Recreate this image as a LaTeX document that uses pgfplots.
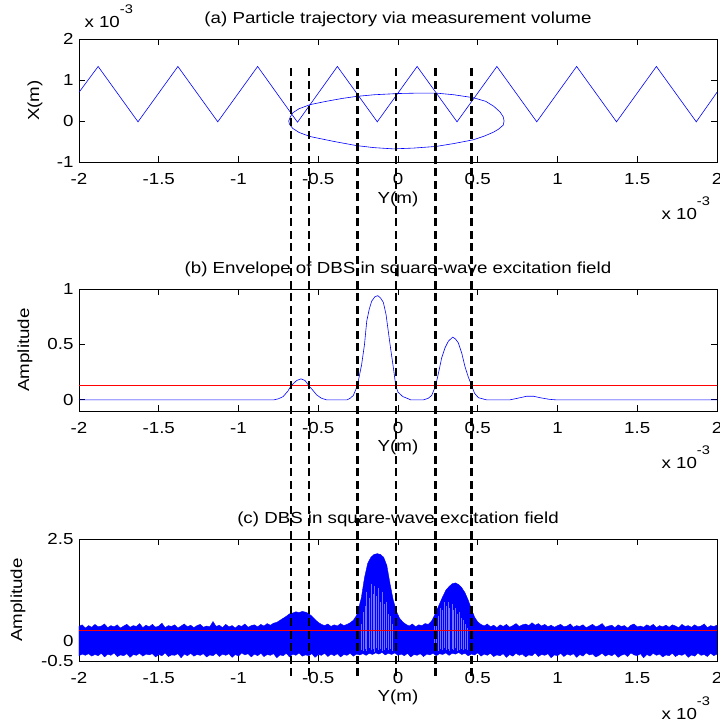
\documentclass[border=0pt]{standalone}
\usepackage{fontspec}
\setmainfont{Liberation Sans}[FakeStretch=1.17]
\usepackage{pgfplots}
\pgfplotsset{compat=1.18}

\newcommand{\xten}{x 10\raisebox{14pt}{\fontsize{12.5}{14}\selectfont -3}}

\pgfplotsset{
  mat/.style={
    scale only axis, width=638pt, height=123pt,
    xmin=-2, xmax=2,
    xtick={-2,-1.5,-1,-0.5,0,0.5,1,1.5,2},
    tick align=inside, major tick length=6pt,
    axis line style={line width=0.9pt},
    every tick/.style={black, line width=0.9pt},
    /pgf/number format/assume math mode=true,
    xticklabel style={yshift=-5.5pt},
    xlabel={Y(m)},
    xlabel style={at={(axis description cs:0.5,-0.30)}, anchor=center},
    every axis title/.style={at={(0.5,1)}, anchor=base, yshift=15.5pt},
    extra description/.code={
      \node[anchor=base east] at (1,0) [xshift=-1.5pt, yshift=-58pt] {\xten};
    },
  },
  dashline/.style={black, line width=2.5pt, dash pattern=on 8pt off 4.5pt},
}

\begin{document}
\fontsize{16}{19}\selectfont
\begin{tikzpicture}
\useasboundingbox (0,0) rectangle (720pt,724pt);

% (a) trajectory
\begin{axis}[mat, at={(79pt,562pt)}, anchor=south west,
    ymin=-1, ymax=2, ytick={-1,0,1,2},
    ylabel={X(m)},
    ylabel style={at={(axis description cs:-0.069,0.5)}, anchor=center},
    title={(a) Particle trajectory via measurement volume},
    extra description/.append code={
      \node[anchor=base west] at (0,1) [yshift=11pt] {\xten};
    },
]
\addplot[blue, line width=0.6pt] coordinates {
  (-2,0.70) (-1.88,1.33) (-1.63,-0.02) (-1.38,1.33) (-1.13,-0.02)
  (-0.88,1.33) (-0.63,-0.03) (-0.38,1.33) (-0.13,-0.02) (0.12,1.33)
  (0.37,-0.02) (0.62,1.33) (0.87,-0.02) (1.12,1.33) (1.37,-0.02)
  (1.62,1.33) (1.87,-0.02) (2,0.70)
};
\addplot[blue, line width=0.6pt] coordinates {
  (-0.685,0) (-0.675,0.10) (-0.66,0.20) (-0.62,0.30) (-0.55,0.40)
  (-0.45,0.48) (-0.35,0.55) (-0.26,0.60) (-0.15,0.64) (0,0.67)
  (0.12,0.68) (0.24,0.68) (0.35,0.64) (0.47,0.57) (0.55,0.48)
  (0.60,0.36) (0.64,0.22) (0.66,0.10) (0.665,0)
  (0.66,-0.10) (0.63,-0.20) (0.60,-0.27) (0.54,-0.37) (0.47,-0.46)
  (0.35,-0.55) (0.24,-0.62) (0.10,-0.66) (-0.03,-0.68) (-0.15,-0.65)
  (-0.26,-0.60) (-0.40,-0.50) (-0.55,-0.38) (-0.62,-0.28) (-0.66,-0.18)
  (-0.68,-0.08) (-0.685,0)
};
\end{axis}

% (b) envelope
\begin{axis}[mat, at={(79pt,313pt)}, anchor=south west, height=122pt,
    ymin=-0.1, ymax=1, ytick={0,0.5,1},
    ylabel={Amplitude},
    ylabel style={at={(axis description cs:-0.0846,0.5)}, anchor=center},
    title={(b) Envelope of DBS in square-wave excitation field},
]
\addplot[blue, line width=0.6pt] coordinates {
  (-2,0) (-0.78,0) (-0.75,0.01) (-0.72,0.03) (-0.69,0.08) (-0.671,0.127)
  (-0.635,0.175) (-0.608,0.19) (-0.583,0.175) (-0.558,0.127) (-0.53,0.08)
  (-0.51,0.045) (-0.48,0.015) (-0.447,0) (-0.32,0) (-0.30,0.015)
  (-0.28,0.04) (-0.255,0.127) (-0.228,0.318) (-0.21,0.50) (-0.196,0.71)
  (-0.18,0.82) (-0.165,0.89) (-0.145,0.93) (-0.127,0.94) (-0.11,0.92)
  (-0.092,0.88) (-0.075,0.77) (-0.061,0.62) (-0.045,0.45) (-0.029,0.29)
  (-0.014,0.127) (0.0,0.07) (0.03,0.03) (0.065,0.01) (0.08,0)
  (0.159,0) (0.19,0.015) (0.211,0.04) (0.236,0.127) (0.255,0.25)
  (0.274,0.38) (0.295,0.47) (0.316,0.53) (0.343,0.566) (0.36,0.55)
  (0.378,0.515) (0.40,0.42) (0.42,0.30) (0.44,0.21) (0.462,0.127)
  (0.48,0.06) (0.504,0.02) (0.556,0) (0.70,0) (0.75,0.015) (0.807,0.033)
  (0.85,0.033) (0.89,0.02) (0.95,0.005) (0.995,0) (2,0)
};
\addplot[red, line width=1pt] coordinates {(-2,0.13) (2,0.13)};
\end{axis}

% (c) DBS signal: noise band as one closed outline (upper edge, then lower edge back)
\begin{axis}[mat, at={(79pt,63pt)}, anchor=south west, height=122pt,
    ymin=-0.5, ymax=2.5, ytick={-0.5,0,2.5},
    ylabel={Amplitude},
    ylabel style={at={(axis description cs:-0.0956,0.5)}, anchor=center},
    title={(c) DBS in square-wave excitation field},
    clip=false, unbounded coords=jump,
]
\addplot[blue, fill=blue, line width=0.4pt] coordinates {
  (-2.00,0.35) (-1.98,0.39) (-1.96,0.31) (-1.94,0.37) (-1.92,0.33) (-1.90,0.40)
  (-1.88,0.34) (-1.86,0.36) (-1.84,0.41) (-1.82,0.32) (-1.80,0.37) (-1.78,0.34)
  (-1.76,0.39) (-1.74,0.31) (-1.72,0.36) (-1.70,0.40) (-1.68,0.33) (-1.66,0.37)
  (-1.64,0.35) (-1.62,0.42) (-1.60,0.32) (-1.58,0.38) (-1.56,0.34) (-1.54,0.40)
  (-1.52,0.33) (-1.50,0.36) (-1.48,0.43) (-1.46,0.32) (-1.44,0.37) (-1.42,0.35)
  (-1.40,0.39) (-1.38,0.31) (-1.36,0.36) (-1.34,0.41) (-1.32,0.34) (-1.30,0.38)
  (-1.28,0.32) (-1.26,0.37) (-1.24,0.40) (-1.22,0.33) (-1.20,0.36) (-1.18,0.34)
  (-1.16,0.47) (-1.14,0.35) (-1.12,0.38) (-1.10,0.32) (-1.08,0.40) (-1.06,0.34)
  (-1.04,0.37) (-1.02,0.31) (-1.00,0.38) (-0.98,0.35) (-0.96,0.41) (-0.94,0.33)
  (-0.92,0.37) (-0.90,0.39) (-0.88,0.34) (-0.86,0.40) (-0.84,0.36) (-0.82,0.42)
  (-0.80,0.38) (-0.78,0.43) (-0.76,0.45) (-0.74,0.50) (-0.72,0.55) (-0.70,0.60)
  (-0.68,0.66) (-0.66,0.68) (-0.64,0.71) (-0.62,0.69) (-0.60,0.72) (-0.58,0.70)
  (-0.56,0.67) (-0.54,0.60) (-0.52,0.52) (-0.50,0.45) (-0.48,0.40) (-0.46,0.37)
  (-0.44,0.41) (-0.42,0.35) (-0.40,0.39) (-0.38,0.36) (-0.36,0.42) (-0.34,0.37)
  (-0.32,0.40) (-0.30,0.44) (-0.28,0.50) (-0.26,0.62) (-0.25,0.75) (-0.23,1.05)
  (-0.21,1.55) (-0.19,1.90) (-0.17,2.05) (-0.15,2.12) (-0.13,2.14) (-0.11,2.12)
  (-0.09,2.05) (-0.07,1.85) (-0.05,1.40) (-0.03,1.00) (-0.01,0.72) (0.01,0.55)
  (0.03,0.46) (0.05,0.40) (0.07,0.36) (0.09,0.41) (0.11,0.34) (0.13,0.39)
  (0.15,0.37) (0.17,0.42) (0.19,0.40) (0.21,0.48) (0.22,0.55) (0.24,0.72)
  (0.26,0.90) (0.28,1.08) (0.30,1.24) (0.32,1.33) (0.34,1.40) (0.36,1.42)
  (0.38,1.38) (0.40,1.30) (0.42,1.18) (0.44,1.00) (0.46,0.78) (0.48,0.58)
  (0.50,0.46) (0.52,0.40) (0.54,0.36) (0.56,0.41) (0.58,0.34) (0.60,0.38)
  (0.62,0.32) (0.64,0.39) (0.66,0.35) (0.68,0.40) (0.70,0.33) (0.72,0.37)
  (0.74,0.42) (0.76,0.35) (0.78,0.39) (0.80,0.41) (0.82,0.37) (0.84,0.44)
  (0.86,0.38) (0.88,0.42) (0.90,0.36) (0.92,0.40) (0.94,0.34) (0.96,0.38)
  (0.98,0.33) (1.00,0.37) (1.02,0.40) (1.04,0.34) (1.06,0.36) (1.08,0.41)
  (1.10,0.33) (1.12,0.37) (1.14,0.35) (1.16,0.39) (1.18,0.32) (1.20,0.36)
  (1.22,0.40) (1.24,0.34) (1.26,0.37) (1.28,0.42) (1.30,0.33) (1.32,0.36)
  (1.34,0.38) (1.36,0.32) (1.38,0.39) (1.40,0.35) (1.42,0.37) (1.44,0.31)
  (1.46,0.38) (1.48,0.41) (1.50,0.34) (1.52,0.36) (1.54,0.33) (1.56,0.39)
  (1.58,0.35) (1.60,0.40) (1.62,0.32) (1.64,0.37) (1.66,0.34) (1.68,0.38)
  (1.70,0.33) (1.72,0.39) (1.74,0.36) (1.76,0.32) (1.78,0.40) (1.80,0.35)
  (1.82,0.37) (1.84,0.33) (1.86,0.39) (1.88,0.34) (1.90,0.36) (1.92,0.41)
  (1.94,0.32) (1.96,0.37) (1.98,0.35) (2.00,0.38)
  (2.00,-0.33) (1.98,-0.37) (1.96,-0.31) (1.94,-0.39) (1.92,-0.34) (1.90,-0.36)
  (1.88,-0.30) (1.86,-0.38) (1.84,-0.35) (1.82,-0.41) (1.80,-0.32) (1.78,-0.36)
  (1.76,-0.34) (1.74,-0.39) (1.72,-0.31) (1.70,-0.37) (1.68,-0.35) (1.66,-0.40)
  (1.64,-0.33) (1.62,-0.36) (1.60,-0.31) (1.58,-0.38) (1.56,-0.34) (1.54,-0.42)
  (1.52,-0.32) (1.50,-0.37) (1.48,-0.35) (1.46,-0.30) (1.44,-0.39) (1.42,-0.33)
  (1.40,-0.36) (1.38,-0.41) (1.36,-0.32) (1.34,-0.37) (1.32,-0.34) (1.30,-0.38)
  (1.28,-0.31) (1.26,-0.36) (1.24,-0.40) (1.22,-0.33) (1.20,-0.35) (1.18,-0.30)
  (1.16,-0.38) (1.14,-0.34) (1.12,-0.41) (1.10,-0.32) (1.08,-0.36) (1.06,-0.33)
  (1.04,-0.39) (1.02,-0.31) (1.00,-0.37) (0.98,-0.35) (0.96,-0.42) (0.94,-0.32)
  (0.92,-0.36) (0.90,-0.34) (0.88,-0.39) (0.86,-0.30) (0.84,-0.37) (0.82,-0.35)
  (0.80,-0.40) (0.78,-0.33) (0.76,-0.36) (0.74,-0.31) (0.72,-0.38) (0.70,-0.34)
  (0.68,-0.41) (0.66,-0.32) (0.64,-0.37) (0.62,-0.35) (0.60,-0.39) (0.58,-0.31)
  (0.56,-0.36) (0.54,-0.33) (0.52,-0.38) (0.50,-0.30) (0.48,-0.35) (0.46,-0.33)
  (0.44,-0.37) (0.42,-0.31) (0.40,-0.34) (0.38,-0.29) (0.36,-0.33) (0.34,-0.31)
  (0.32,-0.36) (0.30,-0.30) (0.28,-0.34) (0.26,-0.32) (0.24,-0.37) (0.22,-0.31)
  (0.20,-0.35) (0.18,-0.33) (0.16,-0.39) (0.14,-0.32) (0.12,-0.36) (0.10,-0.34)
  (0.08,-0.40) (0.06,-0.31) (0.04,-0.37) (0.02,-0.33) (0.00,-0.36) (-0.02,-0.30)
  (-0.04,-0.34) (-0.06,-0.31) (-0.08,-0.35) (-0.10,-0.29) (-0.12,-0.33) (-0.14,-0.30)
  (-0.16,-0.34) (-0.18,-0.31) (-0.20,-0.36) (-0.22,-0.32) (-0.24,-0.35) (-0.26,-0.33)
  (-0.28,-0.38) (-0.30,-0.31) (-0.32,-0.36) (-0.34,-0.34) (-0.36,-0.40) (-0.38,-0.32)
  (-0.40,-0.37) (-0.42,-0.33) (-0.44,-0.39) (-0.46,-0.31) (-0.48,-0.36) (-0.50,-0.34)
  (-0.52,-0.41) (-0.54,-0.32) (-0.56,-0.37) (-0.58,-0.35) (-0.60,-0.38) (-0.62,-0.30)
  (-0.64,-0.36) (-0.66,-0.33) (-0.68,-0.40) (-0.70,-0.31) (-0.72,-0.37) (-0.74,-0.35)
  (-0.76,-0.42) (-0.78,-0.32) (-0.80,-0.36) (-0.82,-0.34) (-0.84,-0.39) (-0.86,-0.31)
  (-0.88,-0.37) (-0.90,-0.33) (-0.92,-0.40) (-0.94,-0.32) (-0.96,-0.35) (-0.98,-0.30)
  (-1.00,-0.38) (-1.02,-0.34) (-1.04,-0.41) (-1.06,-0.32) (-1.08,-0.36) (-1.10,-0.33)
  (-1.12,-0.39) (-1.14,-0.31) (-1.16,-0.37) (-1.18,-0.35) (-1.20,-0.40) (-1.22,-0.32)
  (-1.24,-0.36) (-1.26,-0.34) (-1.28,-0.38) (-1.30,-0.31) (-1.32,-0.37) (-1.34,-0.33)
  (-1.36,-0.42) (-1.38,-0.32) (-1.40,-0.36) (-1.42,-0.35) (-1.44,-0.39) (-1.46,-0.30)
  (-1.48,-0.37) (-1.50,-0.34) (-1.52,-0.40) (-1.54,-0.32) (-1.56,-0.35) (-1.58,-0.33)
  (-1.60,-0.38) (-1.62,-0.31) (-1.64,-0.36) (-1.66,-0.34) (-1.68,-0.41) (-1.70,-0.32)
  (-1.72,-0.37) (-1.74,-0.35) (-1.76,-0.39) (-1.78,-0.30) (-1.80,-0.36) (-1.82,-0.33)
  (-1.84,-0.40) (-1.86,-0.31) (-1.88,-0.37) (-1.90,-0.34) (-1.92,-0.38) (-1.94,-0.32)
  (-1.96,-0.36) (-1.98,-0.33) (-2.00,-0.37)
} -- cycle;
% pale gaps between the oscillations inside the two large bursts
\addplot[blue!55!white, line width=0.25pt] coordinates {
  (-0.232,-0.22) (-0.232,0.40) (-0.232,nan)
  (-0.221,-0.25) (-0.221,0.70) (-0.221,nan)
  (-0.207,-0.20) (-0.207,0.85) (-0.207,nan)
  (-0.197,-0.26) (-0.197,1.20) (-0.197,nan)
  (-0.183,-0.18) (-0.183,1.05) (-0.183,nan)
  (-0.171,-0.24) (-0.171,1.40) (-0.171,nan)
  (-0.158,-0.21) (-0.158,1.15) (-0.158,nan)
  (-0.149,-0.27) (-0.149,1.35) (-0.149,nan)
  (-0.135,-0.19) (-0.135,1.10) (-0.135,nan)
  (-0.125,-0.23) (-0.125,1.30) (-0.125,nan)
  (-0.111,-0.20) (-0.111,0.95) (-0.111,nan)
  (-0.101,-0.25) (-0.101,1.20) (-0.101,nan)
  (-0.087,-0.22) (-0.087,0.90) (-0.087,nan)
  (-0.077,-0.18) (-0.077,0.95) (-0.077,nan)
  (-0.063,-0.24) (-0.063,0.65) (-0.063,nan)
  (-0.051,-0.21) (-0.051,0.60) (-0.051,nan)
  (-0.039,-0.26) (-0.039,0.40) (-0.039,nan)
  (0.229,-0.22) (0.229,0.35) (0.229,nan)
  (0.241,-0.19) (0.241,0.55) (0.241,nan)
  (0.251,-0.25) (0.251,0.60) (0.251,nan)
  (0.265,-0.21) (0.265,0.80) (0.265,nan)
  (0.275,-0.24) (0.275,0.75) (0.275,nan)
  (0.289,-0.18) (0.289,0.95) (0.289,nan)
  (0.299,-0.23) (0.299,0.85) (0.299,nan)
  (0.313,-0.20) (0.313,0.95) (0.313,nan)
  (0.323,-0.26) (0.323,0.80) (0.323,nan)
  (0.337,-0.21) (0.337,0.90) (0.337,nan)
  (0.347,-0.24) (0.347,0.75) (0.347,nan)
  (0.361,-0.19) (0.361,0.80) (0.361,nan)
  (0.371,-0.25) (0.371,0.65) (0.371,nan)
  (0.385,-0.22) (0.385,0.70) (0.385,nan)
  (0.397,-0.20) (0.397,0.55) (0.397,nan)
  (0.409,-0.24) (0.409,0.50) (0.409,nan)
  (0.421,-0.21) (0.421,0.40) (0.421,nan)
  (0.433,-0.23) (0.433,0.30)
};
\addplot[red, line width=0.5pt] coordinates {(-2,0.25) (2,0.25)};
% threshold crossings, dashed through all three panels
\addplot[dashline] coordinates {(-0.670,-0.87) (-0.670,14.1)};
\addplot[dashline] coordinates {(-0.558,-0.87) (-0.558,14.1)};
\addplot[dashline] coordinates {(-0.255,-0.87) (-0.255,14.1)};
\addplot[dashline] coordinates {(-0.014,-0.87) (-0.014,14.1)};
\addplot[dashline] coordinates {(0.236,-0.87) (0.236,14.1)};
\addplot[dashline] coordinates {(0.462,-0.87) (0.462,14.1)};
\end{axis}
\end{tikzpicture}
\end{document}
